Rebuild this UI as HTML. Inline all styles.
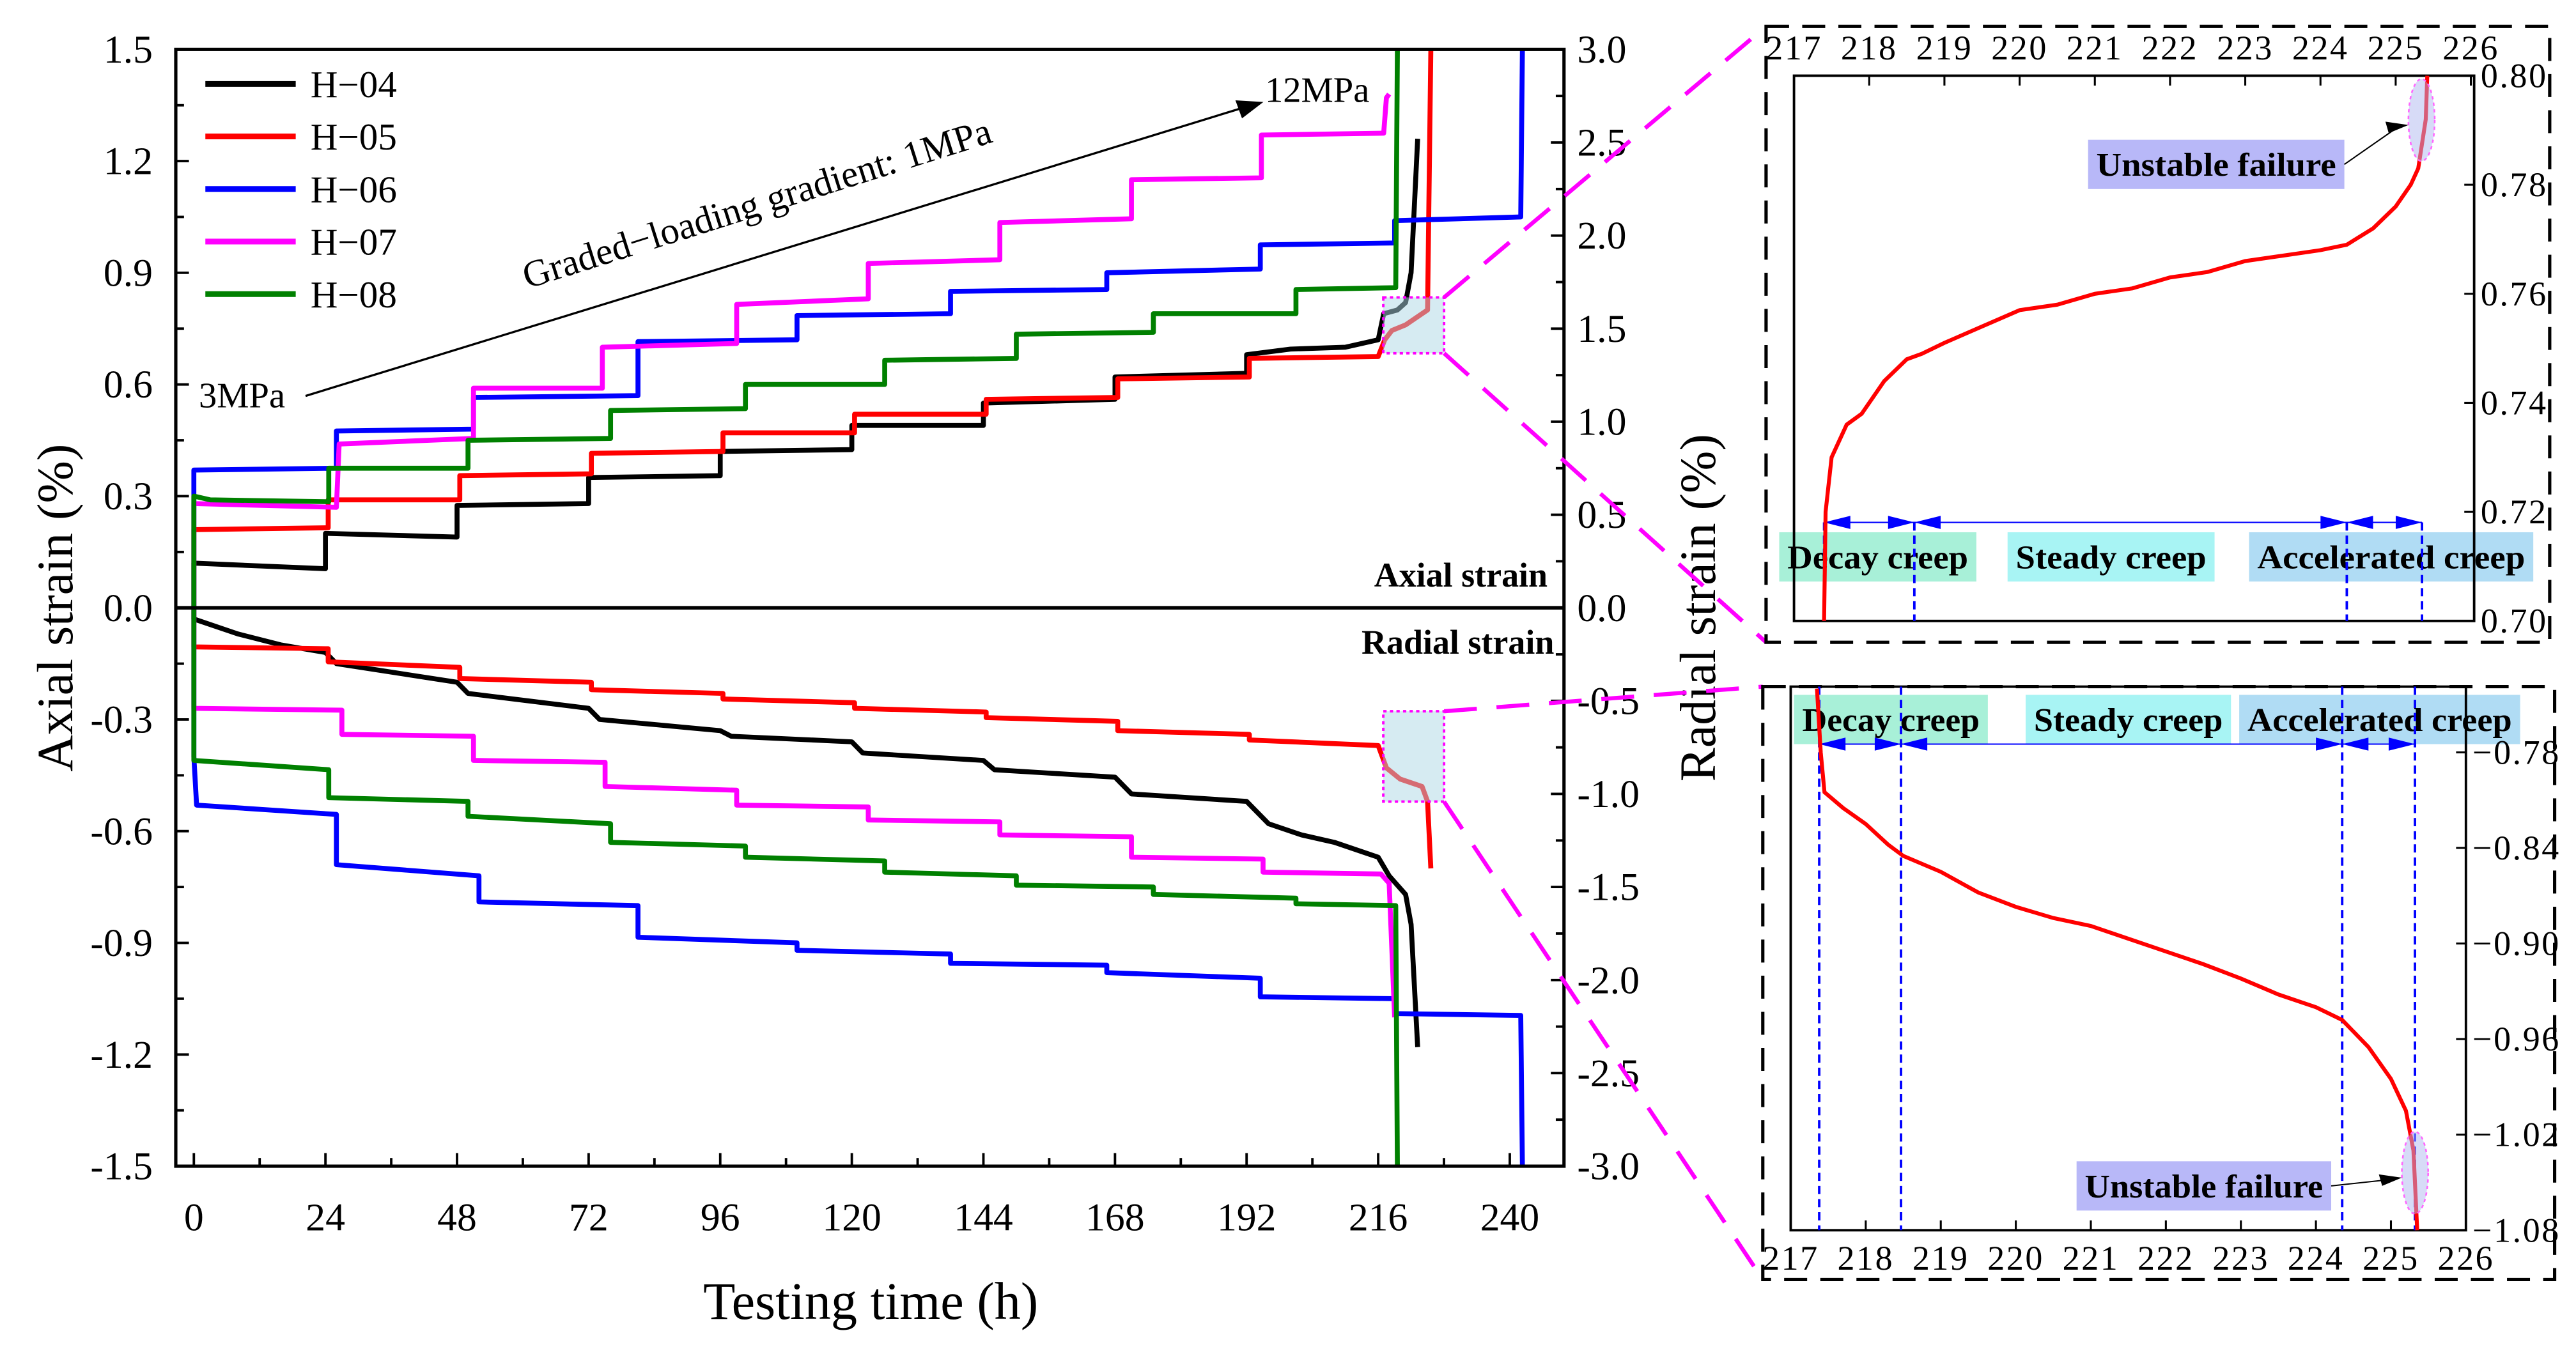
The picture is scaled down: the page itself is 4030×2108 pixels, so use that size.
<!DOCTYPE html>
<html><head><meta charset="utf-8"><style>
html,body{margin:0;padding:0;background:#fff}
svg{display:block}
text{font-family:"Liberation Serif",serif}
</style></head><body>
<svg id="chart" xmlns="http://www.w3.org/2000/svg" width="4030" height="2108" viewBox="0 0 1568 820">
<rect x="0" y="0" width="1568" height="820" fill="#fff"/>
<g id="main"></g>
<g id="insetTop"></g>
<g id="insetBot"></g>
</svg>
<script>
// ---- main chart data (hours, strain %) ----
const xTicks = [0,24,48,72,96,120,144,168,192,216,240];
const leftTicks = [1.5,1.2,0.9,0.6,0.3,0.0,-0.3,-0.6,-0.9,-1.2,-1.5];
const rightTicks = [3.0,2.5,2.0,1.5,1.0,0.5,0.0,-0.5,-1.0,-1.5,-2.0,-2.5,-3.0];
const seriesNames = ["H\u221204","H\u221205","H\u221206","H\u221207","H\u221208"];
const seriesColors = ["#000000","#ff0000","#0000ff","#ff00ff","#008000"];
const h04Axial = [[0,0],[0,0.12],[24,0.105],[24,0.2],[48,0.19],[48,0.275],[72,0.28],[72,0.35],[96,0.355],[96,0.42],[120,0.425],[120,0.49],[144,0.49],[144,0.55],[168,0.56],[168,0.62],[192,0.63],[192,0.68],[200,0.695],[210,0.7],[216,0.72],[217,0.79],[219.5,0.8],[221,0.82],[222,0.9],[223.2,1.26]];
const h04Radial = [[0,0],[0,-0.03],[8,-0.07],[16,-0.1],[24,-0.12],[26,-0.15],[48,-0.2],[50,-0.23],[72,-0.27],[74,-0.3],[96,-0.33],[98,-0.345],[120,-0.36],[122,-0.39],[144,-0.41],[146,-0.435],[168,-0.455],[171,-0.5],[192,-0.52],[196,-0.58],[202,-0.61],[208,-0.63],[214,-0.66],[216,-0.67],[218,-0.72],[221,-0.77],[222,-0.85],[223.2,-1.18]];
const h05Axial = [[0,0],[0,0.21],[24.5,0.215],[24.5,0.29],[48.5,0.29],[48.5,0.355],[72.5,0.36],[72.5,0.415],[96.5,0.42],[96.5,0.47],[120.5,0.47],[120.5,0.52],[144.5,0.52],[144.5,0.56],[168.5,0.565],[168.5,0.615],[192.5,0.62],[192.5,0.67],[216,0.675],[217.2,0.72],[218.5,0.745],[221,0.76],[225,0.8],[225.6,1.5]];
const h05Radial = [[0,0],[0,-0.105],[24.5,-0.11],[24.5,-0.145],[48.5,-0.16],[48.5,-0.19],[72.5,-0.2],[72.5,-0.22],[96.5,-0.23],[96.5,-0.245],[120.5,-0.255],[120.5,-0.27],[144.5,-0.28],[144.5,-0.295],[168.5,-0.305],[168.5,-0.33],[192.5,-0.34],[192.5,-0.355],[216,-0.37],[217.5,-0.43],[220,-0.46],[224,-0.48],[225,-0.52],[225.6,-0.7]];
const h06Axial = [[0,0],[0,0.37],[26,0.375],[26,0.475],[51,0.48],[51,0.565],[81,0.57],[81,0.715],[110,0.72],[110,0.785],[138,0.79],[138,0.85],[166.5,0.855],[166.5,0.9],[194.5,0.91],[194.5,0.975],[219,0.98],[219,1.04],[242,1.05],[242.3,1.5]];
const h06Radial = [[0,0],[0,-0.4],[0.5,-0.53],[26,-0.555],[26,-0.69],[52,-0.72],[52,-0.79],[81,-0.8],[81,-0.885],[110,-0.9],[110,-0.92],[138,-0.93],[138,-0.955],[166.5,-0.96],[166.5,-0.98],[194.5,-0.995],[194.5,-1.045],[219,-1.05],[219,-1.09],[242,-1.095],[242.3,-1.5]];
const h07Axial = [[0,0],[0,0.28],[26,0.27],[26.5,0.44],[51,0.455],[51,0.59],[74.5,0.59],[74.5,0.7],[99,0.71],[99,0.815],[123,0.83],[123,0.925],[147,0.935],[147,1.035],[171,1.045],[171,1.15],[194.7,1.155],[194.7,1.27],[217,1.275],[217.5,1.37],[218,1.38]];
const h07Radial = [[0,0],[0,-0.27],[27,-0.275],[27,-0.34],[51,-0.345],[51,-0.41],[75,-0.415],[75,-0.48],[99,-0.49],[99,-0.53],[123,-0.535],[123,-0.57],[147,-0.575],[147,-0.61],[171,-0.615],[171,-0.67],[195,-0.675],[195,-0.71],[216.5,-0.715],[218,-0.74],[219,-1.1]];
const h08Axial = [[0,0],[0,0.3],[3,0.29],[24.6,0.285],[24.6,0.375],[50,0.375],[50,0.45],[76,0.455],[76,0.53],[100.6,0.535],[100.6,0.6],[126,0.6],[126,0.665],[150,0.67],[150,0.735],[175,0.74],[175,0.79],[201,0.79],[201,0.855],[219.2,0.86],[219.5,1.5]];
const h08Radial = [[0,0],[0,-0.41],[24.6,-0.435],[24.6,-0.51],[50,-0.52],[50,-0.56],[76,-0.58],[76,-0.63],[100.6,-0.64],[100.6,-0.67],[126,-0.68],[126,-0.71],[150,-0.72],[150,-0.745],[175,-0.75],[175,-0.77],[201,-0.78],[201,-0.795],[219.2,-0.8],[219.5,-1.5]];
// ---- inset data ----
const insetXTicks = [217,218,219,220,221,222,223,224,225,226];
const topYTicks = [0.80,0.78,0.76,0.74,0.72,0.70];
const botYTicks = [-0.78,-0.84,-0.90,-0.96,-1.02,-1.08];
const topCurve = [[217.4,0.700],[217.42,0.72],[217.5,0.73],[217.7,0.736],[217.9,0.738],[218.2,0.744],[218.5,0.748],[218.7,0.749],[219,0.751],[219.5,0.754],[220,0.757],[220.5,0.758],[221,0.760],[221.5,0.761],[222,0.763],[222.5,0.764],[223,0.766],[223.5,0.767],[224,0.768],[224.35,0.769],[224.7,0.772],[225,0.776],[225.2,0.780],[225.3,0.783],[225.4,0.792],[225.42,0.80]];
const botCurve = [[217.35,-0.74],[217.4,-0.78],[217.45,-0.805],[217.7,-0.815],[218,-0.825],[218.3,-0.838],[218.5,-0.845],[219,-0.855],[219.5,-0.868],[220,-0.877],[220.5,-0.884],[221,-0.889],[221.5,-0.897],[222,-0.905],[222.5,-0.913],[223,-0.922],[223.5,-0.932],[224,-0.940],[224.35,-0.948],[224.7,-0.965],[225,-0.985],[225.2,-1.005],[225.3,-1.03],[225.35,-1.08]];
const topStageLines = [217.4,218.6,224.35,225.35];
const botStageLines = [217.38,218.47,224.35,225.32];

const NS="http://www.w3.org/2000/svg";
function mk(parent,tag,attrs,txt){const e=document.createElementNS(NS,tag);for(const k in attrs)e.setAttribute(k,attrs[k]);if(txt!==undefined)e.textContent=txt;parent.appendChild(e);return e;}
const X=h=>118+h*3.3375, Y=v=>370-v*226.67, YR=r=>370-r*113.33;
const main=document.getElementById('main');

const allSeries=[[h04Axial,h04Radial],[h05Axial,h05Radial],[h06Axial,h06Radial],[h07Axial,h07Radial],[h08Axial,h08Radial]];
const clip=mk(main,'clipPath',{id:'mc'});mk(clip,'rect',{x:107,y:30,width:845,height:680});
const sg=mk(main,'g',{'clip-path':'url(#mc)'});
allSeries.forEach((pair,i)=>{pair.forEach((pts,j)=>{
  const p=mk(sg,'polyline',{points:pts.map(d=>X(d[0]).toFixed(2)+','+Y(d[1]).toFixed(2)).join(' '),fill:'none',stroke:seriesColors[i],'stroke-width':3,'stroke-linejoin':'round'});
  
  
});});
mk(main,'rect',{x:107,y:30,width:845,height:680,fill:'none',stroke:'#000','stroke-width':2,});
mk(main,'line',{x1:107,y1:370,x2:952,y2:370,stroke:'#000','stroke-width':2.2,});
xTicks.forEach(t=>{mk(main,'line',{x1:X(t),y1:710,x2:X(t),y2:702,stroke:'#000','stroke-width':1.5});
  const tx=mk(main,'text',{x:X(t),y:749,'font-size':24,'text-anchor':'middle'},String(t));
  
  if(t<240)mk(main,'line',{x1:X(t+12),y1:710,x2:X(t+12),y2:705,stroke:'#000','stroke-width':1.5});});
leftTicks.forEach((v,i)=>{mk(main,'line',{x1:107,y1:Y(v),x2:115,y2:Y(v),stroke:'#000','stroke-width':1.5});
  if(i<leftTicks.length-1)mk(main,'line',{x1:107,y1:Y(v-0.15),x2:112,y2:Y(v-0.15),stroke:'#000','stroke-width':1.5});
  const tx=mk(main,'text',{x:93,y:Y(v)+8,'font-size':24,'text-anchor':'end'},(v<0?'-':'')+Math.abs(v).toFixed(1));
  });
rightTicks.forEach((r,i)=>{mk(main,'line',{x1:952,y1:YR(r),x2:944,y2:YR(r),stroke:'#000','stroke-width':1.5});
  if(i<rightTicks.length-1)mk(main,'line',{x1:952,y1:YR(r-0.25),x2:947,y2:YR(r-0.25),stroke:'#000','stroke-width':1.5});
  const tx=mk(main,'text',{x:960,y:YR(r)+8,'font-size':24},(r<0?'-':'')+Math.abs(r).toFixed(1));
  });
mk(main,'text',{x:530,y:803,'font-size':32,'text-anchor':'middle',},'Testing time (h)');
mk(main,'text',{x:0,y:0,'font-size':31,'text-anchor':'middle',transform:'translate(44,370) rotate(-90)',},'Axial strain (%)');
mk(main,'text',{x:0,y:0,'font-size':31,'text-anchor':'middle',transform:'translate(1044,370) rotate(-90)',},'Radial strain (%)');
seriesNames.forEach((n,i)=>{const y=51+i*32;
  const l=mk(main,'line',{x1:125,y1:y,x2:180,y2:y,stroke:seriesColors[i],'stroke-width':3.5});
  
  const t=mk(main,'text',{x:189,y:y+8,'font-size':23},n);
  });
mk(main,'text',{x:942,y:357,'font-size':21,'font-weight':'bold','text-anchor':'end',},'Axial strain');
mk(main,'text',{x:946,y:398,'font-size':21,'font-weight':'bold','text-anchor':'end',},'Radial strain');
mk(main,'text',{x:121,y:248,'font-size':22,},'3MPa');
mk(main,'text',{x:770,y:62,'font-size':22,},'12MPa');
mk(main,'line',{x1:186,y1:241,x2:755,y2:66,stroke:'#000','stroke-width':1.3,});
mk(main,'polygon',{points:'769,62 752,61 756,72',fill:'#000'});
mk(main,'text',{x:0,y:0,'font-size':23,'text-anchor':'middle',transform:'translate(463,131) rotate(-17.5)',},'Graded\u2212loading gradient: 1MPa');
mk(main,'rect',{x:842,y:181,width:37,height:34,fill:'#add8e6','fill-opacity':0.5,stroke:'#ff00ff','stroke-width':1.5,'stroke-dasharray':'2,2',});
mk(main,'rect',{x:842,y:433,width:37,height:55,fill:'#add8e6','fill-opacity':0.5,stroke:'#ff00ff','stroke-width':1.5,'stroke-dasharray':'2,2',});
[[879,181,1075,16],[879,215,1075,391],[879,433,1073,418],[879,488,1073,779]].forEach(c=>{
  const l=mk(main,'line',{x1:c[0],y1:c[1],x2:c[2],y2:c[3],stroke:'#ff00ff','stroke-width':2.5,'stroke-dasharray':'20,12'});
  });

function inset(g,o){
  mk(g,'rect',{x:o.ox,y:o.oy,width:o.ow,height:o.oh,fill:'none',stroke:'#000','stroke-width':2,'stroke-dasharray':'14,8',});
  const XI=h=>o.fx+(h-217)*o.sx, YI=v=>o.y0+(o.v0-v)*o.sy;
  o.boxes.forEach(b=>{mk(g,'rect',{x:b[0],y:o.by,width:b[1]-b[0],height:30,fill:b[3]});
    const t=mk(g,'text',{x:(b[0]+b[1])/2,y:o.by+22,'font-size':20,'font-weight':'bold','text-anchor':'middle','textLength':(b[1]-b[0]-10),'lengthAdjust':'spacingAndGlyphs'},b[2]);
    });
  mk(g,'rect',{x:o.fx,y:o.fy,width:o.fw,height:o.fh,fill:'none',stroke:'#000','stroke-width':1.5,});
  const s=o.stages;
  mk(g,'line',{x1:XI(s[0]),y1:o.ay,x2:XI(s[3]),y2:o.ay,stroke:'#0000ff','stroke-width':0.8});
  [[s[0],s[1]],[s[1],s[2]],[s[2],s[3]]].forEach(p=>{const a=XI(p[0]),b=XI(p[1]);
    mk(g,'polygon',{points:`${a},${o.ay} ${a+16},${o.ay-4} ${a+16},${o.ay+4}`,fill:'#0000ff'});
    mk(g,'polygon',{points:`${b},${o.ay} ${b-16},${o.ay-4} ${b-16},${o.ay+4}`,fill:'#0000ff'});});
  s.forEach(h=>{const l=mk(g,'line',{x1:XI(h),y1:o.dl[0],x2:XI(h),y2:o.dl[1],stroke:'#0000ff','stroke-width':1.5,'stroke-dasharray':'5,3'});
    });
  const c=mk(g,'polyline',{points:o.curve.map(d=>XI(d[0]).toFixed(2)+','+YI(d[1]).toFixed(2)).join(' '),fill:'none',stroke:'#ff0000','stroke-width':2.4});
  
  insetXTicks.forEach(t=>{mk(g,'line',{x1:XI(t),y1:o.tickY,x2:XI(t),y2:o.tickY+o.tickDir*6,stroke:'#000','stroke-width':1.2});
    const tx=mk(g,'text',{x:XI(t),y:o.xly,'font-size':21,'text-anchor':'middle','letter-spacing':'1'},String(t));
    });
  o.yt.forEach(v=>{mk(g,'line',{x1:o.fx+o.fw,y1:YI(v),x2:o.fx+o.fw-6,y2:YI(v),stroke:'#000','stroke-width':1.2});
    const tx=mk(g,'text',{x:o.fx+o.fw+4,y:YI(v)+7,'font-size':21,'letter-spacing':'1'},(v<0?'\u2212':'')+Math.abs(v).toFixed(2));
    });
  mk(g,'ellipse',{cx:o.el[0],cy:o.el[1],rx:8,ry:25,fill:'#b0b8f0','fill-opacity':0.5,stroke:'#ff66ff','stroke-width':1,'stroke-dasharray':'2,2'});
  mk(g,'rect',{x:o.uf[0],y:o.uf[1],width:o.uf[2]-o.uf[0],height:30,fill:'#b8b8f8'});
  mk(g,'text',{x:(o.uf[0]+o.uf[2])/2,y:o.uf[1]+22,'font-size':20,'font-weight':'bold','text-anchor':'middle','textLength':(o.uf[2]-o.uf[0]-10),'lengthAdjust':'spacingAndGlyphs',},'Unstable failure');
  mk(g,'line',{x1:o.uf[2],y1:o.uf[1]+o.ua,x2:o.el[0]-14,y2:o.el[1]+(o.ua>15?-2:4),stroke:'#000','stroke-width':0.8});
  const ax=o.el[0]-8, ay=o.el[1]+(o.ua>15?-3:3);
  mk(g,'polygon',{points:`${ax},${ay} ${ax-14},${ay-4+(o.ua>15?0:2)} ${ax-12},${ay+5}`,fill:'#000'});
}
inset(document.getElementById('insetTop'),{ox:1075,oy:16,ow:477,oh:375,fx:1092,fy:46,fw:414,fh:332,sx:45.78,y0:46,v0:0.80,sy:3320,
  curve:topCurve,stages:topStageLines,yt:topYTicks,by:324,ay:318,dl:[318,378],tickY:46,tickDir:1,xly:36,
  boxes:[[1083,1203,'Decay creep','#a8f0d8'],[1222,1348,'Steady creep','#a8f4f4'],[1369,1542,'Accelerated creep','#b0dcf4']],
  el:[1474,73],uf:[1271,85,1427],ua:15});
inset(document.getElementById('insetBot'),{ox:1073,oy:418,ow:482,oh:361,fx:1090,fy:418,fw:411,fh:331,sx:45.67,y0:458,v0:-0.78,sy:970,
  curve:botCurve,stages:botStageLines,yt:botYTicks,by:423,ay:453,dl:[418,749],tickY:749,tickDir:-1,xly:773,
  boxes:[[1092,1210,'Decay creep','#a8f0d8'],[1233,1358,'Steady creep','#a8f4f4'],[1363,1534,'Accelerated creep','#b0dcf4']],
  el:[1470,714],uf:[1264,707,1419],ua:15});
</script>
</body></html>
